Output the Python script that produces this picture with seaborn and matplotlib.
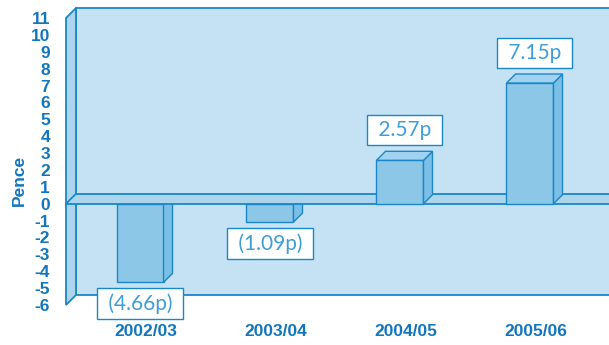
import numpy as np
import pandas as pd
import matplotlib
matplotlib.use("Agg")
import matplotlib.pyplot as plt
import seaborn as sns
from matplotlib.patches import Polygon, Rectangle
from matplotlib.lines import Line2D
from matplotlib.transforms import ScaledTranslation

# ---- data ----
categories = ["2002/03", "2003/04", "2004/05", "2005/06"]
values = [-4.66, -1.09, 2.57, 7.15]
value_labels = ["(4.66p)", "(1.09p)", "2.57p", "7.15p"]
yticks = list(range(-6, 12))
ylabel = "Pence"

# ---- styles ----
WALL = "#c5e2f4"
SIDE = "#acd5ee"
FRONT = "#8cc7e8"
BSIDE = "#7cbfe6"
BTOP = "#a2d2ef"
EDGE = "#1a87c8"
TXT = "#1276bd"
VTXT = "#3f9dd8"

sns.set_theme(style="white")
plt.rcParams['font.family'] = ['Liberation Sans', 'DejaVu Sans']

W, H = 609, 345
fig = plt.figure(figsize=(W / 100, H / 100), dpi=100)
ax_left, ax_right, ax_top, ax_bot = 66, 609, 8, 305
ax = fig.add_axes([ax_left / W, (H - ax_bot) / H, (ax_right - ax_left) / W, (ax_bot - ax_top) / H])
ax.set_facecolor("none")

df = pd.DataFrame({"year": categories, "pence": values})
sns.barplot(data=df, x="year", y="pence", color=FRONT, saturation=1,
            width=47 / 130, edgecolor=EDGE, linewidth=1, ax=ax)

xl, xr = -74 / 130, 469 / 130
ymin = yticks[0]
px_per_y = (ax_bot - 18) / (yticks[-1] - yticks[0])
ymax = yticks[-1] + (18 - ax_top) / px_per_y
ax.set_xlim(xl, xr)
ax.set_ylim(ymin, ymax)

px_per_x = (ax_right - ax_left) / (xr - xl)
dxw, dyw = 10 / px_per_x, 10 / px_per_y
dxb, dyb = 9 / px_per_x, 9 / px_per_y

# back wall
ax.add_patch(Rectangle((xl + dxw, ymin + dyw), xr - xl, ymax - ymin - dyw,
                       facecolor=WALL, edgecolor="none", zorder=0.2, clip_on=False))
for seg in [([xl + dxw, xr], [ymax, ymax]), ([xl + dxw, xr], [ymin + dyw, ymin + dyw]),
            ([xl + dxw, xl + dxw], [ymin + dyw, ymax])]:
    ax.add_line(Line2D(seg[0], seg[1], color=EDGE, lw=1.3, zorder=0.3, clip_on=False))
# left side panel
ax.add_patch(Polygon([(xl, ymin), (xl, yticks[-1]), (xl + dxw, ymax), (xl + dxw, ymin + dyw)],
                     closed=True, facecolor=SIDE, edgecolor=EDGE, lw=1.3, zorder=1, clip_on=False))
# zero floor band
ax.add_patch(Polygon([(xl, 0), (xl + dxw, dyw), (xr, dyw), (xr, 0)], closed=True,
                     facecolor=SIDE, edgecolor="none", zorder=2, clip_on=False))
for seg in [([xl, xr], [0, 0]), ([xl + dxw, xr], [dyw, dyw]), ([xl, xl + dxw], [0, dyw])]:
    ax.add_line(Line2D(seg[0], seg[1], color=EDGE, lw=1.3, zorder=2.1, clip_on=False))

label_style = dict(textcoords="offset points", ha="center", fontsize=15, color=VTXT,
                   family=["Lato", "DejaVu Sans"], weight="normal", zorder=5,
                   bbox=dict(boxstyle="square,pad=0.25", fc="white", ec=EDGE, lw=1))

# 3D bar faces
for p, lab in zip(ax.patches[:len(values)], value_labels):
    x0 = p.get_x()
    x1 = x0 + p.get_width()
    v = p.get_y() + p.get_height()
    cx = x0 + p.get_width() / 2
    side = [(x1, 0), (x1, v), (x1 + dxb, v + dyb), (x1 + dxb, dyb)]
    if v >= 0:
        p.set_zorder(3)
        top = [(x0, v), (x0 + dxb, v + dyb), (x1 + dxb, v + dyb), (x1, v)]
        ax.add_patch(Polygon(side, closed=True, facecolor=BSIDE, edgecolor=EDGE, lw=1, zorder=3))
        ax.add_patch(Polygon(top, closed=True, facecolor=BTOP, edgecolor=EDGE, lw=1, zorder=3))
        ax.annotate(" " + lab + " ", xy=(cx + dxb / 2, v + dyb), xytext=(0, 8),
                    va="bottom", **label_style)
    else:
        p.set_zorder(1.5)
        ax.add_patch(Polygon(side, closed=True, facecolor=BSIDE, edgecolor=EDGE, lw=1, zorder=1.5))
        ax.annotate(" " + lab + " ", xy=(cx, v), xytext=(0, -8),
                    va="top", **label_style)

for s in ax.spines.values():
    s.set_visible(False)
ax.set_xlabel("")
ax.set_ylabel("")
ax.set_yticks(yticks)
ax.set_yticklabels([str(t) for t in yticks])
ax.tick_params(axis="y", length=0, pad=11.5, labelsize=12.5, labelcolor=TXT)
ax.tick_params(axis="x", length=0, pad=14, labelsize=12.5, labelcolor=TXT)
for lab in ax.get_yticklabels():
    lab.set_fontweight("bold")
for lab in ax.get_xticklabels():
    lab.set_fontweight("bold")
    lab.set_transform(lab.get_transform() + ScaledTranslation(6 / 100, 0, fig.dpi_scale_trans))

fig.text(19 / W, 1 - 180 / H, ylabel, rotation=90, ha="center", va="center",
         fontsize=12.5, fontweight="bold", color=TXT)

fig.savefig("out.png", dpi=100)
